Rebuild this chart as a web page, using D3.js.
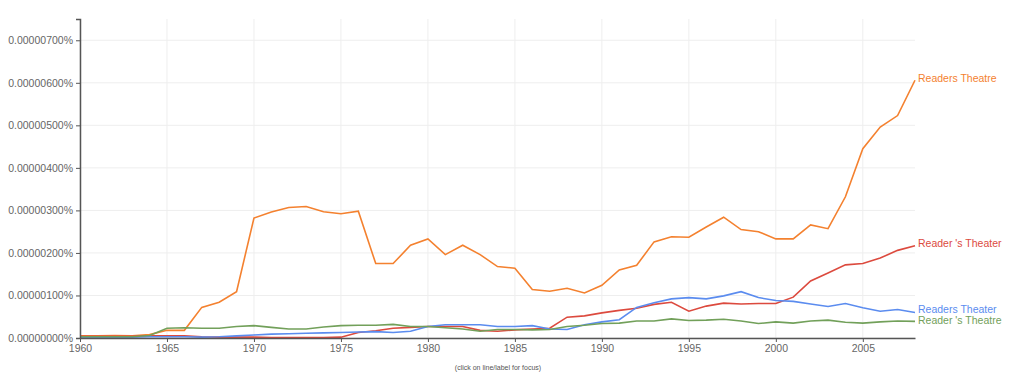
<!DOCTYPE html>
<html>
<head>
<meta charset="utf-8">
<script src="https://cdn.jsdelivr.net/npm/d3@7"></script>
<style>
  body { margin: 0; background: #fff; }
  svg { font-family: Arial, "Liberation Sans", sans-serif; }
</style>
</head>
<body>
<svg id="chart"></svg>
<script>
// years 1960..2008, values in millionths of a percent
const years = d3.range(1960, 2009);

const readersTheatre = [0.05, 0.05, 0.06, 0.05, 0.08, 0.18, 0.18, 0.72, 0.84, 1.09,
  2.82, 2.96, 3.07, 3.09, 2.97, 2.92, 2.98, 1.75, 1.75, 2.18,
  2.33, 1.96, 2.18, 1.96, 1.68, 1.64, 1.14, 1.10, 1.17, 1.06,
  1.24, 1.60, 1.71, 2.26, 2.38, 2.37, 2.61, 2.84, 2.55, 2.50,
  2.33, 2.33, 2.66, 2.57, 3.32, 4.45, 4.96, 5.23, 6.06];

const readerSTheater = [0.04, 0.04, 0.04, 0.04, 0.05, 0.05, 0.05, 0.03, 0.02, 0.02,
  0.02, 0.01, 0.01, 0.01, 0.01, 0.02, 0.13, 0.17, 0.23, 0.25,
  0.27, 0.27, 0.27, 0.18, 0.16, 0.19, 0.21, 0.23, 0.49, 0.52,
  0.59, 0.65, 0.70, 0.79, 0.84, 0.63, 0.75, 0.82, 0.80, 0.81,
  0.81, 0.96, 1.34, 1.53, 1.72, 1.75, 1.88, 2.06, 2.17];

const readersTheater = [0.02, 0.02, 0.02, 0.02, 0.03, 0.03, 0.03, 0.02, 0.03, 0.05,
  0.07, 0.09, 0.10, 0.11, 0.12, 0.13, 0.14, 0.15, 0.13, 0.16,
  0.27, 0.31, 0.31, 0.31, 0.27, 0.27, 0.29, 0.21, 0.20, 0.31,
  0.38, 0.43, 0.72, 0.83, 0.92, 0.95, 0.92, 0.99, 1.09, 0.95,
  0.88, 0.86, 0.80, 0.74, 0.81, 0.71, 0.63, 0.67, 0.60];

const readerSTheatre = [0.03, 0.03, 0.03, 0.03, 0.06, 0.23, 0.24, 0.23, 0.23, 0.27,
  0.29, 0.25, 0.21, 0.21, 0.26, 0.29, 0.30, 0.30, 0.32, 0.27,
  0.27, 0.24, 0.21, 0.16, 0.20, 0.20, 0.19, 0.20, 0.27, 0.30,
  0.34, 0.35, 0.40, 0.40, 0.45, 0.41, 0.42, 0.44, 0.40, 0.34,
  0.38, 0.35, 0.40, 0.42, 0.37, 0.35, 0.38, 0.40, 0.39];

const seriesNames = ["Readers Theatre", "Reader 's Theater", "Readers Theater", "Reader 's Theatre"];
const seriesValues = [readersTheatre, readerSTheater, readersTheater, readerSTheatre];
const colors = ["#f4812f", "#dc4a3e", "#5b8cef", "#72a05a"];
const yTicks = [0, 1, 2, 3, 4, 5, 6, 7];
const xTicks = d3.range(1960, 2006, 5);

const width = 1024, height = 389;
const margin = { top: 19, right: 109, bottom: 51, left: 80 };

const svg = d3.select("#chart").attr("width", width).attr("height", height);

const x = d3.scaleLinear().domain([1960, 2008]).range([margin.left, width - margin.right]);
const y = d3.scaleLinear().domain([0, 7.5]).range([height - margin.bottom, margin.top]);

// grid
svg.append("g").selectAll("line").data(yTicks).join("line")
  .attr("x1", margin.left).attr("x2", width - margin.right)
  .attr("y1", d => y(d)).attr("y2", d => y(d))
  .attr("stroke", "#eee").attr("stroke-width", 1);
svg.append("g").selectAll("line").data(xTicks).join("line")
  .attr("x1", d => x(d)).attr("x2", d => x(d))
  .attr("y1", margin.top).attr("y2", height - margin.bottom)
  .attr("stroke", "#eee").attr("stroke-width", 1);

// lines
const line = d3.line().x((d, i) => x(years[i])).y(d => y(d));
svg.append("g").selectAll("path").data(seriesValues).join("path")
  .attr("d", line)
  .attr("fill", "none")
  .attr("stroke", (d, i) => colors[i])
  .attr("stroke-width", 1.6);

// axes
const fmt = d => (d * 1e-6).toFixed(8) + "%";
const yAxis = svg.append("g")
  .attr("transform", `translate(${margin.left},0)`)
  .call(d3.axisLeft(y).tickValues(yTicks).tickFormat(fmt).tickSize(4).tickSizeOuter(4));
const xAxis = svg.append("g")
  .attr("transform", `translate(0,${height - margin.bottom})`)
  .call(d3.axisBottom(x).tickValues(xTicks).tickFormat(d3.format("d")).tickSize(4).tickSizeOuter(0));

[yAxis, xAxis].forEach(g => {
  g.select(".domain").attr("stroke", "#555").attr("stroke-width", 1.5);
  g.selectAll(".tick line").attr("stroke", "#555");
  g.selectAll("text").attr("fill", "#666").attr("font-size", "10.5px")
    .attr("font-family", "Arial, 'Liberation Sans', sans-serif");
});

// end labels, spread apart so they don't overlap
const labels = seriesNames.map((name, i) => ({
  name, color: colors[i], y: y(seriesValues[i][seriesValues[i].length - 1])
}));
const sorted = labels.slice().sort((a, b) => a.y - b.y);
for (let k = 1; k < sorted.length; k++) {
  const gap = sorted[k].y - sorted[k - 1].y;
  if (gap < 11) {
    const shift = (11 - gap) / 2;
    sorted[k - 1].y -= shift;
    sorted[k].y += shift;
  }
}
svg.append("g").selectAll("text").data(labels).join("text")
  .attr("x", x(2008) + 3)
  .attr("y", d => d.y - 2)
  .attr("dy", "0.35em")
  .attr("fill", d => d.color)
  .attr("font-size", "10.5px")
  .text(d => d.name);

svg.append("text")
  .attr("x", 498).attr("y", 370)
  .attr("text-anchor", "middle")
  .attr("font-size", "7px")
  .attr("fill", "#555")
  .text("(click on line/label for focus)");
</script>
</body>
</html>
